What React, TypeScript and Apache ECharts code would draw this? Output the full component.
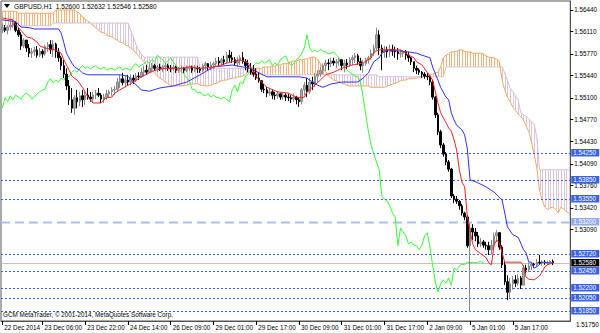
import React, { useEffect, useRef } from 'react';
import * as echarts from 'echarts';

// Prices are stored in pips above 1.50000 (e.g. 613 -> 1.56130)
const BASE = 1.5;
const firstOpenPip = 613;

const highPips = [
  623, 621, 620, 626, 629, 626, 617, 610, 601, 598,
  592, 586, 588, 589, 586, 584, 591, 595, 598, 598,
  594, 586, 574, 568, 555, 537, 525, 514, 522, 519,
  522, 519, 525, 519, 519, 522, 525, 517, 516, 522,
  522, 526, 528, 540, 545, 548, 543, 545, 546, 545,
  548, 549, 555, 559, 560, 562, 563, 562, 560, 562,
  560, 563, 562, 560, 560, 559, 557, 559, 557, 559,
  560, 559, 560, 559, 557, 562, 565, 563, 565, 565,
  571, 572, 571, 574, 580, 583, 580, 572, 572, 575,
  580, 569, 568, 563, 560, 555, 549, 537, 531, 526,
  525, 522, 519, 520, 517, 519, 517, 516, 514, 516,
  513, 511, 525, 534, 540, 540, 542, 548, 552, 557,
  562, 568, 569, 571, 571, 569, 571, 568, 568, 569,
  572, 575, 578, 577, 571, 568, 571, 574, 583, 591,
  617, 613, 591, 589, 588, 591, 591, 588, 586, 583,
  583, 583, 580, 572, 563, 559, 555, 551, 549, 548,
  543, 537, 513, 487, 461, 441, 427, 415, 403, 363,
  360, 354, 348, 336, 331, 319, 317, 311, 305, 296,
  293, 290, 290, 293, 304, 308, 305, 285, 259, 239,
  235, 238, 239, 241, 238, 255, 255, 258, 259, 258,
  264, 270, 262, 262, 261, 262, 263.2,
];

const lowPips = [
  609, 610, 607, 613, 617, 610, 603, 583, 586, 580,
  572, 571, 574, 571, 572, 571, 574, 580, 577, 572,
  571, 565, 552, 540, 522, 499, 487, 484, 494, 497,
  496, 499, 507, 504, 502, 508, 511, 502, 502, 507,
  510, 513, 514, 519, 525, 529, 526, 528, 529, 531,
  534, 537, 540, 542, 545, 548, 549, 551, 549, 551,
  549, 552, 551, 549, 551, 548, 548, 549, 548, 549,
  551, 548, 549, 548, 548, 549, 552, 551, 552, 554,
  557, 559, 559, 560, 562, 565, 563, 559, 557, 560,
  562, 552, 549, 545, 542, 537, 533, 519, 517, 511,
  513, 508, 507, 508, 507, 507, 505, 505, 502, 504,
  500, 496, 500, 514, 511, 516, 522, 526, 534, 542,
  546, 551, 552, 557, 559, 555, 559, 552, 549, 554,
  557, 560, 563, 560, 552, 548, 559, 562, 568, 574,
  583, 575, 552, 571, 571, 572, 574, 571, 568, 571,
  572, 568, 565, 560, 549, 546, 545, 540, 539, 537,
  529, 507, 479, 453, 433, 420, 407, 397, 357, 349,
  348, 339, 330, 323, 281, 183, 293, 291, 282, 282,
  281, 278, 270, 271, 278, 290, 278, 250, 224, 201,
  204, 217, 221, 223, 218, 224, 242, 244, 247, 250,
  252, 255, 253, 255, 255, 256, 254.6,
];

const closePips = [
  617, 613, 618, 621, 624, 613, 606, 589, 598, 586,
  578, 580, 583, 575, 581, 577, 588, 591, 583, 592,
  580, 571, 559, 546, 528, 507, 494, 510, 504, 513,
  507, 514, 511, 508, 514, 517, 514, 508, 511, 516,
  519, 522, 523, 534, 539, 533, 537, 534, 540, 537,
  543, 542, 549, 552, 549, 555, 559, 555, 557, 554,
  557, 559, 555, 554, 557, 552, 554, 555, 552, 555,
  557, 552, 555, 554, 552, 559, 562, 557, 560, 562,
  566, 563, 568, 565, 575, 571, 568, 563, 566, 571,
  565, 559, 555, 549, 546, 540, 536, 523, 522, 517,
  519, 514, 513, 516, 511, 514, 511, 510, 508, 511,
  507, 504, 522, 529, 519, 534, 531, 543, 546, 552,
  559, 563, 562, 566, 563, 565, 568, 559, 563, 560,
  568, 571, 574, 565, 559, 562, 568, 571, 578, 586,
  606, 586, 580, 583, 580, 584, 581, 580, 577, 578,
  580, 575, 571, 565, 555, 552, 549, 546, 543, 542,
  534, 511, 484, 458, 438, 424, 412, 401, 360, 355,
  352, 345, 334, 328, 284, 311, 305, 299, 287, 290,
  285, 284, 278, 285, 299, 304, 282, 255, 229, 213,
  226, 232, 227, 235, 224, 250, 247, 253, 256, 255,
  259, 258, 259, 258, 259, 260, 258,
];

// Tenkan-sen (red) and Kijun-sen (blue): [bar index, pips]
const tenkanPts: [number, number][] = [
  [0, 632], [2, 630], [4, 629], [5, 621], [7, 613], [9, 603], [11, 601], [13, 595], [14, 589],
  [16, 586], [18, 584], [20, 583], [22, 578], [23, 568], [25, 552], [26, 543], [28, 537],
  [30, 526], [32, 511], [34, 502], [37, 502], [38, 507], [39, 510], [41, 511], [42, 517],
  [44, 522], [47, 529], [49, 534], [52, 542], [54, 546], [57, 552], [61, 555], [67, 555],
  [70, 557], [74, 555], [79, 557], [82, 560], [84, 563], [86, 565], [89, 568], [92, 563],
  [95, 542], [99, 526], [103, 519], [107, 517], [110, 511], [111, 510], [113, 511], [114, 519],
  [116, 526], [119, 537], [121, 545], [124, 549], [127, 555], [131, 560], [135, 563], [138, 571],
  [139, 580], [141, 583], [149, 583], [151, 578], [152, 575], [154, 571], [155, 565], [157, 560],
  [159, 549], [161, 537], [163, 502], [164, 487], [166, 472], [167, 464], [168, 459], [169, 446],
  [170, 430], [171, 400], [172, 381], [173, 374], [174, 328], [175, 308], [176, 287], [177, 278],
  [179, 272], [181, 266], [182, 258], [183, 255], [184, 285], [185, 293], [186, 288], [187, 273],
  [188, 259], [194, 259], [195, 253], [196, 236], [197, 233], [199, 232], [200, 235], [201, 238],
  [202, 244], [203, 252], [204, 255], [206, 258],
];

const kijunPts: [number, number][] = [
  [0, 629], [5, 626], [7, 618], [10, 617], [12, 615], [21, 615], [22, 609], [23, 594], [24, 578],
  [26, 563], [27, 557], [29, 552], [30, 548], [32, 545], [44, 545], [47, 543], [49, 534],
  [52, 522], [55, 520], [59, 525], [64, 528], [69, 534], [74, 545], [79, 557], [86, 560],
  [90, 557], [93, 555], [96, 548], [99, 542], [111, 542], [114, 540], [115, 537], [118, 529],
  [120, 526], [123, 531], [127, 534], [133, 534], [135, 540], [137, 548], [138, 557], [139, 565],
  [141, 571], [142, 578], [144, 583], [152, 580], [155, 578], [157, 575], [160, 571], [161, 557],
  [163, 537], [164, 526], [166, 511], [167, 507], [168, 487], [169, 476], [170, 468], [172, 461],
  [173, 453], [174, 432], [175, 385], [178, 380], [181, 374], [184, 366], [187, 354], [188, 334],
  [189, 313], [191, 301], [193, 297], [194, 288], [195, 278], [196, 273], [197, 259], [198, 259],
  [199, 250], [200, 252], [202, 259], [204, 258], [206, 258],
];

// Senkou span A (sandy brown) and B (thistle), one value per bar (0..212)
const senkouAPips = [
  642, 642, 642, 642, 642, 642, 639, 639, 639, 639,
  639, 639, 639, 639, 639, 639, 639, 639, 639, 639,
  644, 644, 644, 644, 644, 644, 644, 644, 641, 638,
  633, 630, 627, 624, 620, 617, 613, 610, 609, 606,
  604, 603, 600, 598, 595, 594, 591, 589, 586, 583,
  578, 574, 569, 565, 560, 555, 552, 548, 543, 540,
  537, 534, 531, 529, 528, 528, 528, 528, 529, 529,
  531, 531, 531, 532, 529, 529, 528, 528, 529, 531,
  532, 534, 536, 537, 537, 539, 540, 540, 542, 542,
  543, 546, 549, 552, 554, 555, 555, 555, 557, 557,
  557, 558, 558, 560, 560, 562, 562, 563, 565, 566,
  566, 568, 568, 569, 569, 571, 572, 572, 568, 562,
  555, 549, 543, 540, 537, 536, 534, 532, 531, 529,
  528, 528, 528, 528, 528, 528, 528, 528, 526, 526,
  526, 526, 526, 526, 528, 529, 531, 532, 534, 536,
  537, 537, 539, 539, 540, 540, 542, 542, 543, 543,
  545, 546, 548, 549, 557, 571, 575, 577, 580, 580,
  581, 583, 583, 581, 580, 580, 578, 578, 578, 578,
  577, 574, 572, 571, 571, 569, 565, 537, 522, 511,
  504, 496, 491, 485, 481, 476, 467, 458, 442, 423,
  403, 369, 354, 343, 339, 342, 343, 340, 334, 343,
  340, 336, 334,
];

const senkouBPips = [
  620, 620, 620, 620, 620, 620, 620, 620, 620, 620,
  620, 620, 620, 620, 620, 620, 620, 620, 620, 624,
  624, 624, 624, 624, 624, 624, 624, 624, 624, 624,
  624, 624, 624, 624, 624, 624, 624, 624, 624, 624,
  624, 624, 624, 624, 624, 624, 624, 624, 613, 603,
  591, 583, 577, 572, 572, 572, 572, 572, 572, 572,
  572, 572, 572, 572, 572, 572, 572, 572, 572, 572,
  572, 572, 572, 572, 555, 555, 555, 555, 555, 555,
  555, 555, 555, 555, 555, 555, 555, 555, 555, 555,
  555, 555, 555, 545, 545, 545, 545, 545, 545, 545,
  545, 545, 545, 545, 545, 545, 545, 545, 545, 545,
  545, 545, 545, 545, 545, 545, 545, 545, 545, 545,
  545, 545, 545, 545, 545, 545, 545, 545, 545, 545,
  545, 545, 545, 545, 545, 545, 545, 545, 545, 545,
  545, 542, 542, 542, 542, 542, 542, 542, 542, 542,
  542, 542, 542, 542, 542, 542, 542, 542, 542, 542,
  542, 542, 542, 542, 542, 542, 557, 557, 557, 557,
  557, 557, 557, 557, 557, 557, 557, 557, 557, 557,
  557, 557, 557, 557, 557, 557, 557, 557, 548, 536,
  525, 519, 513, 507, 487, 484, 482, 478, 473, 470,
  449, 400, 400, 400, 400, 400, 400, 400, 400, 400,
  400, 400, 400,
];

const chikouShift = 26;
const barCount = 213;

const timeLabelIdx = [0, 15, 31, 47, 63, 79, 95, 111, 127, 143, 159, 175, 191];
const timeLabels = [
  '22 Dec 2014', '23 Dec 06:00', '23 Dec 22:00', '24 Dec 14:00', '26 Dec 09:00',
  '29 Dec 01:00', '29 Dec 17:00', '30 Dec 09:00', '31 Dec 01:00', '31 Dec 17:00',
  '2 Jan 09:00', '5 Jan 01:00', '5 Jan 17:00',
];

const priceTicks = [1.5644, 1.5611, 1.5577, 1.5544, 1.551, 1.5477, 1.5443, 1.5409, 1.5376, 1.5342, 1.5309];
const bottomTick = 1.5175;
const levelLines = [1.5425, 1.5385, 1.5355, 1.5272, 1.5245, 1.522, 1.5205, 1.5185];
const supportLevel = 1.532;
const bidPrice = 1.5258;
const yMin = 1.51692;
const yMax = 1.56577;

const titleText = 'GBPUSD,H1  1.52600 1.52632 1.52546 1.52580';
const copyrightText = 'GCM MetaTrader, \u00a9 2001-2014, MetaQuotes Software Corp.';

const FONT = "'Liberation Sans', Arial, sans-serif";
const FS = 6.3;

// drawing styles per horizontal-line kind: 0 = level, 1 = support, 2 = bid
const LINE_KINDS = [
  { stroke: '#3a62e8', width: 1, dash: [2, 2], box: '#3a62e8' },
  { stroke: '#a9bff2', width: 2, dash: [9, 5], box: '#8eaaf0' },
  { stroke: '#c0c0c0', width: 1, dash: null, box: '#000000' },
];

const toPrice = (p: number) => +(BASE + p / 10000).toFixed(5);

export default function App() {
  const ref = useRef<HTMLDivElement>(null);

  useEffect(() => {
    if (!ref.current) return;
    const chart = echarts.init(ref.current, null, { renderer: 'svg' });

    const categories: string[] = [];
    for (let i = 0; i < barCount; i++) {
      const k = timeLabelIdx.indexOf(i);
      categories.push(k >= 0 ? timeLabels[k] : '');
    }

    const candles = closePips.map((c, i) => {
      const o = i === 0 ? firstOpenPip : closePips[i - 1];
      const h = Math.max(highPips[i], o, c);
      const l = Math.min(lowPips[i], o, c);
      return [toPrice(o), toPrice(c), toPrice(l), toPrice(h)];
    });

    const cloud = senkouAPips.map((a, i) => [i, toPrice(a), toPrice(senkouBPips[i])]);
    const chikou = closePips.slice(chikouShift).map((c, i) => [i, toPrice(c)]);

    const hLines: number[][] = [
      ...levelLines.map((v) => [0, v, 0]),
      [0, supportLevel, 1],
      [0, bidPrice, 2],
    ];

    const isLabel = (_i: number, v: string) => v !== '';

    chart.setOption({
      animation: false,
      backgroundColor: '#ffffff',
      textStyle: { fontFamily: FONT },
      grid: {
        left: 1, top: 1, right: 29, bottom: 12,
        show: true, borderColor: '#555', borderWidth: 1, backgroundColor: '#fff',
      },
      xAxis: {
        type: 'category',
        data: categories,
        boundaryGap: true,
        axisLine: { show: true, lineStyle: { color: '#555' } },
        axisTick: { show: true, alignWithLabel: true, interval: isLabel, length: 4, lineStyle: { color: '#000' } },
        axisLabel: {
          interval: isLabel, fontSize: FS, color: '#000', align: 'left', margin: 3,
          padding: [0, 0, 0, 2], fontFamily: FONT,
        },
        splitLine: { show: false },
      },
      yAxis: {
        type: 'value',
        position: 'right',
        min: yMin,
        max: yMax,
        axisLine: { show: true, lineStyle: { color: '#555' } },
        axisTick: { show: true, customValues: priceTicks, length: 3, lineStyle: { color: '#000' } },
        axisLabel: {
          customValues: priceTicks, formatter: (v: number) => v.toFixed(5),
          fontSize: FS, color: '#000', margin: 4, fontFamily: FONT,
          padding: [3, 0, 0, 0],
        },
        splitLine: { show: false },
      },
      series: [
        {
          type: 'custom',
          name: 'cloud',
          data: cloud,
          encode: { x: 0, y: [1, 2] },
          z: 1,
          silent: true,
          renderItem: (_params: any, api: any) => {
            const i = api.value(0);
            const a = api.value(1);
            const b = api.value(2);
            const p1 = api.coord([i, a]);
            const p2 = api.coord([i, b]);
            const x = Math.round(p1[0]) + 0.5;
            return {
              type: 'line',
              shape: { x1: x, y1: p1[1], x2: x, y2: p2[1] },
              style: { stroke: a >= b ? '#f5b47e' : '#dcc4dc', lineWidth: 1 },
            };
          },
        },
        {
          type: 'line', name: 'Senkou A', data: senkouAPips.map((a, i) => [i, toPrice(a)]),
          symbol: 'none', z: 2, silent: true, lineStyle: { color: '#f4a460', width: 1 },
        },
        {
          type: 'line', name: 'Senkou B', data: senkouBPips.map((b, i) => [i, toPrice(b)]),
          symbol: 'none', z: 2, silent: true, lineStyle: { color: '#d8bfd8', width: 1 },
        },
        {
          type: 'line', name: 'Chikou', data: chikou,
          symbol: 'none', z: 3, silent: true, lineStyle: { color: '#33ff33', width: 1 },
        },
        {
          type: 'custom',
          name: 'Horizontal lines',
          data: hLines,
          encode: { x: 0, y: 1 },
          z: 3,
          silent: true,
          clip: false,
          renderItem: (params: any, api: any) => {
            const v = api.value(1);
            const kind = LINE_KINDS[api.value(2)];
            const cs = params.coordSys;
            const y = Math.round(api.coord([0, v])[1]) + 0.5;
            const right = cs.x + cs.width;
            return {
              type: 'group',
              children: [
                {
                  type: 'line',
                  shape: { x1: cs.x, y1: y, x2: right, y2: y },
                  style: { stroke: kind.stroke, lineWidth: kind.width, lineDash: kind.dash },
                },
                {
                  type: 'rect',
                  shape: { x: right + 1, y: y - 4.5, width: 28, height: 7.5 },
                  style: { fill: kind.box },
                },
                {
                  type: 'text',
                  style: {
                    text: v.toFixed(5), x: right + 3, y: y - 0.7, fill: '#ffffff',
                    fontSize: FS, fontFamily: FONT, verticalAlign: 'middle', align: 'left',
                  },
                },
              ],
            };
          },
        },
        {
          type: 'candlestick',
          name: 'GBPUSD',
          data: candles,
          barWidth: 2,
          z: 4,
          silent: true,
          itemStyle: {
            color: '#a8a8a8', color0: '#000000',
            borderColor: '#888888', borderColor0: '#000000', borderWidth: 1,
          },
        },
        {
          type: 'line', name: 'Kijun', data: kijunPts.map(([i, p]) => [i, toPrice(p)]),
          symbol: 'none', z: 5, silent: true, lineStyle: { color: '#3030ff', width: 1 },
        },
        {
          type: 'line', name: 'Tenkan', data: tenkanPts.map(([i, p]) => [i, toPrice(p)]),
          symbol: 'none', z: 6, silent: true, lineStyle: { color: '#ff2020', width: 1 },
        },
      ],
      graphic: [
        {
          type: 'polygon', z: 100,
          shape: { points: [[4, 4], [10, 4], [7, 8]] },
          style: { fill: '#000' },
        },
        {
          type: 'text', z: 100, x: 14, y: 6,
          style: { text: titleText, fontSize: 6.6, fontFamily: FONT, fill: '#000', verticalAlign: 'middle' },
        },
        {
          type: 'text', z: 100, x: 3, y: 314,
          style: { text: copyrightText, fontSize: FS, fontFamily: FONT, fill: '#000', verticalAlign: 'middle' },
        },
        {
          type: 'text', z: 100, x: 576, y: 324,
          style: { text: bottomTick.toFixed(5), fontSize: FS, fontFamily: FONT, fill: '#000', verticalAlign: 'middle' },
        },
      ],
    });

    return () => chart.dispose();
  }, []);

  return <div ref={ref} style={{ position: 'fixed', left: 0, top: 0, width: 600, height: 333 }} />;
}
